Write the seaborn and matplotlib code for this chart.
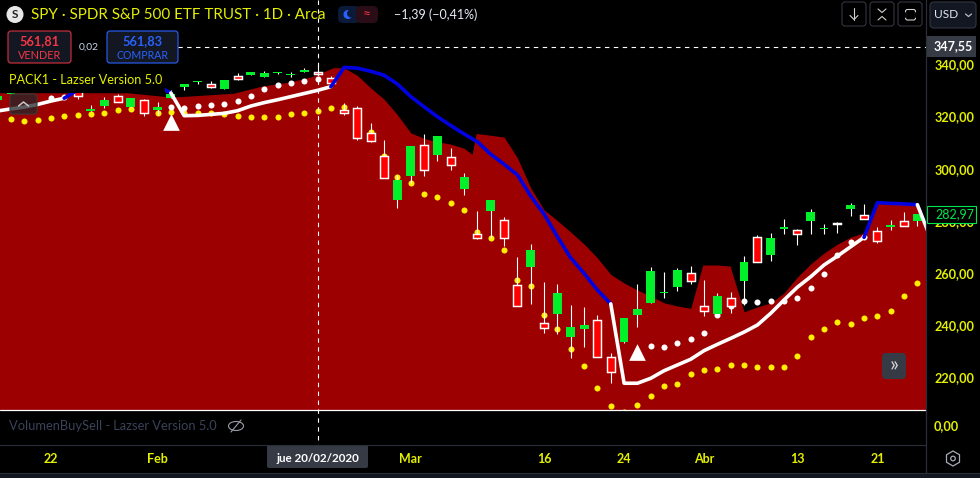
import matplotlib
matplotlib.use("Agg")
import matplotlib.pyplot as plt
from matplotlib.patches import FancyBboxPatch, Rectangle, Circle, Ellipse, RegularPolygon
import seaborn as sns

# one row per candle, left to right
opens = [326.3, 328.8, 330.9, 332.4, 331.3, 332.0, 330.9, 322.1, 324.0, 327.8,
         323.7, 326.2, 322.5, 327.2, 331.2, 333.3, 332.4, 330.4, 335.5, 336.0,
         335.1, 336.8, 336.0, 337.2, 337.0, 334.6, 322.5, 323.1, 313.5, 304.7,
         288.0, 297.2, 308.9, 305.2, 304.4, 292.2, 274.9, 283.8, 280.2, 255.3,
         262.5, 240.8, 244.3, 235.5, 238.6, 241.9, 227.7, 233.6, 243.9, 248.5,
         252.4, 254.7, 259.9, 247.3, 244.3, 250.3, 257.0, 273.7, 266.9, 277.0,
         276.4, 280.0, 276.9, 279.0, 284.6, 282.1, 276.0, 277.7, 279.8, 280.0]
highs = [327.8, 329.4, 332.0, 332.4, 332.4, 332.0, 330.9, 324.4, 327.6, 328.5,
         327.1, 326.6, 325.6, 330.1, 332.4, 333.6, 333.6, 334.0, 336.8, 337.0,
         337.5, 337.0, 337.2, 338.6, 339.7, 335.5, 325.0, 324.0, 317.4, 311.0,
         297.6, 308.7, 313.3, 312.5, 307.9, 298.3, 283.8, 288.0, 281.4, 266.0,
         271.2, 256.6, 255.8, 247.8, 247.0, 243.9, 229.4, 242.8, 255.8, 262.3,
         260.4, 261.9, 262.7, 257.3, 252.4, 252.7, 266.5, 274.6, 275.4, 280.7,
         276.8, 284.5, 278.8, 279.6, 286.8, 286.5, 277.7, 280.3, 283.4, 282.6]
lows = [326.3, 328.8, 330.9, 330.9, 331.3, 330.5, 326.8, 322.1, 323.1, 325.6,
        323.7, 320.3, 320.6, 327.2, 330.1, 332.4, 330.8, 330.4, 334.0, 336.0,
        335.1, 336.2, 335.0, 337.2, 335.8, 331.4, 320.6, 311.0, 310.3, 296.5,
        284.9, 294.4, 297.2, 302.9, 299.5, 289.9, 273.1, 273.3, 270.4, 247.5,
        248.2, 237.2, 236.7, 227.5, 231.7, 228.0, 218.0, 233.2, 239.4, 248.5,
        250.4, 253.1, 255.8, 243.6, 244.3, 244.7, 247.8, 264.4, 264.6, 275.0,
        270.8, 275.0, 275.0, 275.4, 281.9, 280.8, 271.5, 276.5, 278.2, 278.0]
closes = [327.8, 329.4, 332.0, 330.9, 332.4, 330.5, 327.8, 322.8, 326.3, 325.6,
          327.1, 321.2, 323.5, 328.6, 332.4, 333.6, 331.4, 334.0, 334.5, 337.0,
          336.8, 337.0, 336.3, 337.8, 336.2, 332.7, 321.4, 311.9, 310.7, 296.5,
          295.6, 308.7, 299.6, 312.5, 301.5, 296.8, 273.6, 288.0, 273.6, 247.5,
          268.8, 239.1, 252.3, 239.2, 240.1, 228.0, 222.2, 242.8, 246.2, 260.8,
          252.7, 261.2, 257.1, 245.6, 251.2, 247.5, 264.2, 264.4, 273.4, 277.7,
          275.1, 283.4, 277.3, 278.8, 286.1, 280.8, 272.4, 278.4, 278.2, 282.6]

# red band upper edge
band_x = [0, 9.7, 12.7, 13.7, 17.7, 19.9, 21.9, 23.6, 25.2, 26, 27, 28, 29, 30, 31,
          32, 33, 34, 35, 35.6, 35.9, 37, 38, 39, 40, 41, 42, 43, 44, 45, 46, 47,
          48, 49, 50, 51, 52, 52.9, 54, 54.95, 56, 57, 58, 59, 60, 61, 62, 63, 64,
          65, 66, 69, 70]
band_top = [329.1, 329.1, 327.6, 327.6, 328.9, 331.7, 333.2, 335.3, 338.7, 338.6,
            335.7, 330.9, 326.6, 320.6, 313.7, 311.6, 310.3, 309.4, 307.8, 305.5,
            313.5, 312.8, 312.1, 304.1, 292.6, 284.2, 280.1, 275.7, 271.1, 265.8,
            259.5, 256.2, 253.5, 251.2, 248.6, 247.4, 246.5, 263.1, 263.1, 262.7,
            245.2, 247.0, 248.6, 252.4, 258.5, 263.5, 267.7, 271.1, 273.8, 275.4,
            287.0, 286.1, 274.6]

trend = [322.1, 322.9, 323.6, 324.6, 325.9, 327.0, 330.1, 330.5, 330.9, 331.3,
         331.3, 331.5, 331.7, 329.0, 320.3, 320.4, 320.8, 321.2, 322.2, 324.0,
         325.3, 326.4, 327.6, 328.8, 330.0, 331.4, 338.8, 338.5, 337.3, 335.8,
         332.4, 327.6, 323.7, 319.9, 316.5, 313.3, 310.3, 305.5, 301.7, 297.6,
         289.5, 282.6, 273.9, 265.8, 259.9, 253.5, 248.2, 217.8, 217.8, 219.7,
         222.6, 224.8, 227.0, 230.3, 232.7, 235.0, 237.4, 240.1, 244.6, 249.7,
         254.6, 258.6, 263.1, 266.5, 270.1, 273.7, 287.0, 286.7, 286.5, 286.2, 273.3]
trend_runs = [("white", 0, 5), ("blue", 5, 13), ("white", 13, 25), ("blue", 25, 46),
              ("white", 46, 65), ("blue", 65, 69), ("white", 69, 70)]

yellow_x = list(range(1, 70))
yellow_y = [318.9, 318.4, 318.5, 319.3, 320.1, 320.4, 320.8, 321.4, 322.4, 322.9,
            323.2, 321.2, 321.7, 321.2, 321.2, 321.2, 320.9, 320.3, 319.9, 319.7,
            319.7, 320.8, 321.4, 322.2, 323.1, 323.5, 319.4, 314.2, 304.9, 296.9,
            294.4, 290.2, 289.0, 286.7, 284.0, 275.6, 273.3, 268.7, 257.2, 254.9,
            243.8, 238.5, 230.8, 224.3, 215.9, 209.0, 206.8, 209.4, 212.8, 216.6,
            217.4, 221.2, 222.8, 223.1, 224.7, 224.7, 223.9, 223.9, 223.9, 228.1,
            235.4, 238.5, 241.2, 240.4, 242.7, 243.4, 245.4, 251.1, 256.1]

white_x = [4, 5, 13, 14, 15, 16, 17, 18, 19, 20, 21, 22, 23, 24,
           49, 50, 51, 52, 53, 54, 55, 56, 57, 58, 59, 60, 61, 62, 63, 64, 65]
white_y = [327.0, 327.3, 323.5, 323.1, 324.0, 324.5, 324.8, 325.8, 327.7, 330.4,
           332.2, 332.7, 333.5, 334.2, 231.9, 231.5, 233.1, 234.6, 236.9, 244.0,
           247.4, 249.2, 248.8, 249.2, 249.2, 250.3, 254.2, 259.5, 266.8, 271.8, 273.7]

signal_x = [13, 48]
signal_y = [318.0, 229.9]

price_ticks = [220, 240, 260, 280, 300, 320, 340]
price_labels = ["220,00", "240,00", "260,00", "280,00", "300,00", "320,00", "340,00"]
date_ticks = [4, 12, 31, 41, 47, 53, 60, 66]
date_labels = ["22", "Feb", "Mar", "16", "24", "Abr", "13", "21"]

LIME = "#e4f000"
RED_BAND = "#9c0000"
GREEN = "#00f02a"
PANEL = "#131722"
GREY_BOX = "#363a45"
LINE = "#2a2e39"

sns.set_theme(style="dark", rc={"axes.facecolor": "black", "figure.facecolor": "black"})
plt.rcParams["font.family"] = ["Lato", "DejaVu Sans"]

fig = plt.figure(figsize=(9.8, 4.78), dpi=100)
ax = fig.add_axes([0, (478 - 409.5) / 478, 925.5 / 980, 409.5 / 478])

ax.fill_between(band_x, band_top, 200, color=RED_BAND, lw=0, zorder=1)

sns.scatterplot(x=yellow_x, y=yellow_y, color="#ffee00", s=19, linewidth=0, ax=ax, zorder=3)
sns.scatterplot(x=white_x, y=white_y, color="white", s=19, linewidth=0, ax=ax, zorder=3)

for i in range(len(opens)):
    up = closes[i] >= opens[i]
    ax.vlines(i, lows[i], highs[i], color="white", lw=0.8, zorder=4)
    if up:
        ax.bar(i, closes[i] - opens[i], bottom=opens[i], width=0.66, color=GREEN, lw=0, zorder=5)
    else:
        ax.bar(i, opens[i] - closes[i], bottom=closes[i], width=0.6, color="#ff0000",
               edgecolor="white", lw=1.05, zorder=5)

for name, a, b in trend_runs:
    sns.lineplot(x=list(range(a, b + 1)), y=trend[a:b + 1], color="white" if name == "white" else "#0000e0",
                 lw=2.6, errorbar=None, ax=ax, zorder=6)

sns.scatterplot(x=signal_x, y=signal_y, color="white", marker="^", s=145, linewidth=0, ax=ax, zorder=7)

ax.set_xlim(0.182, 69.61)
ax.set_ylim(207.74, 364.62)
ax.yaxis.tick_right()
ax.set_yticks(price_ticks, price_labels)
ax.set_xticks(date_ticks, date_labels)
ax.tick_params(axis="y", length=0, pad=6.5, labelsize=9.1, labelcolor=LIME)
ax.tick_params(axis="x", length=0, pad=31, labelsize=9, labelcolor=LIME)
for t in ax.get_xticklabels() + ax.get_yticklabels():
    t.set_fontweight("bold")
ax.grid(False)
for s in ax.spines.values():
    s.set_visible(False)

# the interface around the chart, in pixels of the picture
ui = fig.add_axes([0, 0, 1, 1], facecolor="none")
ui.set_xlim(0, 980)
ui.set_ylim(478, 0)
ui.axis("off")


def box(x0, y0, x1, y1, face, edge="none", r=3, lw=0.8, **kw):
    p = FancyBboxPatch((x0 + r, y0 + r), x1 - x0 - 2 * r, y1 - y0 - 2 * r,
                       boxstyle=f"round,pad={r},rounding_size={r}", fc=face, ec=edge, lw=lw, **kw)
    ui.add_patch(p)


def label(x, y, s, color="white", size=9, ha="center", weight="normal"):
    ui.text(x, y, s, color=color, fontsize=size, ha=ha, va="center", fontweight=weight)


# legend background hides what runs under it
ui.add_patch(Rectangle((0, 66), 165, 27, fc="black", ec="none"))

ui.plot([317.5, 317.5], [0, 445], color="white", lw=0.8, ls=(0, (4, 4)), zorder=0.5)
ui.plot([0, 926], [46.5, 46.5], color="white", lw=0.8, ls=(0, (4, 4)), zorder=0.5)
ui.plot([0, 926], [409.5, 409.5], color="white", lw=0.9)
ui.plot([0, 926], [445, 445], color=LINE, lw=0.8)
ui.plot([926, 926], [0, 473], color=LINE, lw=0.9)
ui.add_patch(Rectangle((0, 473), 980, 5, fc=PANEL, ec="none"))
ui.plot([0, 980], [473, 473], color=LINE, lw=0.8)

# header
ui.add_patch(Circle((15, 14.5), 8.5, fc="#e8e8e8", ec="none"))
label(15, 14.5, "S", color="#222222", size=8.5, weight="bold")
label(31, 14.5, "SPY · SPDR S&P 500 ETF TRUST · 1D · Arca", color=LIME, size=10.9, ha="left")
box(338, 6, 360, 23, "#0c1a3a", r=5)
box(356, 6, 378, 23, "#2a0d16", r=5)
ui.add_patch(Circle((348, 14.5), 4.5, fc="#2962ff", ec="none"))
ui.add_patch(Circle((351, 13.5), 4, fc="#0c1a3a", ec="none"))
label(367, 14, "≈", color="#f23645", size=10)
label(394, 14.5, "−1,39 (−0,41%)", color="#e6ecf5", size=9, ha="left")

# order boxes
ui.add_patch(Rectangle((0, 38), 107, 18, fc="black", ec="none"))
box(8, 31, 71, 63, PANEL, "#d8323f", r=3)
label(39.5, 41, "561,81", color="#f23645", size=9.2, weight="bold")
label(39.5, 55, "VENDER", color="#f23645", size=7.8)
label(88.5, 47.5, "0,02", color="#c8d4e6", size=7.4)
box(107, 31, 178, 63, PANEL, "#2962ff", r=3)
label(142.5, 41, "561,83", color="#2962ff", size=9.2, weight="bold")
label(142.5, 55, "COMPRAR", color="#2962ff", size=7.6)
label(9, 80, "PACK1 - Lazser Version 5.0", color=LIME, size=9.05, ha="left")

box(10, 94, 37, 114, (0.15, 0.15, 0.17, 0.75), "#3a3a3a", r=3)
ui.plot([18.5, 23.5, 28.5], [106, 102, 106], color="#c8c8c8", lw=1.1)

# top right buttons
for x0 in [842, 870, 898]:
    box(x0, 2, x0 + 24, 26, "black", "#33363f", r=3)
ui.plot([854, 854], [8, 19.5], color="#d0d0d0", lw=0.8)
ui.plot([850, 854, 858], [15.5, 19.5, 15.5], color="#d0d0d0", lw=0.8)
ui.plot([878, 882, 886], [9, 12.5, 9], color="#d0d0d0", lw=0.8)
ui.plot([878, 882, 886], [20, 16.5, 20], color="#d0d0d0", lw=0.8)
box(905.5, 9.5, 915.5, 20, "black", "#d0d0d0", r=2)
ui.plot([905, 905], [12.5, 17], color="black", lw=1.4)
ui.plot([916, 916], [12.5, 17], color="black", lw=1.4)
box(930, 2, 976, 28, PANEL, "#2f3542", r=4)
label(934, 14.5, "USD", color="#dfe6f2", size=8.6, ha="left")
ui.plot([965.5, 968.5, 971.5], [14, 16.5, 14], color="#b8bcc6", lw=0.9)

# price scale labels
ui.add_patch(Rectangle((927, 36), 49, 21, fc=GREY_BOX, ec="none"))
label(953, 46.5, "347,55", size=9, weight="bold")
ui.add_patch(Rectangle((927, 206), 49, 17, fc="black", ec="#00e64d", lw=0.8))
label(955, 214, "282,97", color="#00e64d", size=9, weight="normal")
label(934, 426.5, "0,00", color=LIME, size=9.1, ha="left", weight="bold")

# lower pane
label(9, 426.5, "VolumenBuySell - Lazser Version 5.0", color="#3b4258", size=9.3, ha="left")
ui.add_patch(Ellipse((236, 426), 15, 9, fc="none", ec="#9a9ea8", lw=0.8))
ui.plot([231, 241], [432, 420], color="#9a9ea8", lw=0.8)

# date under the crosshair
box(267, 445, 368, 468, GREY_BOX, r=2)
label(317.5, 459, "jue 20/02/2020", size=8.4, weight="bold")

box(882, 353, 906, 379, GREY_BOX, r=4)
label(894, 365, "»", color="#d8d8d8", size=15)

ui.add_patch(RegularPolygon((953, 458.5), 6, radius=7.5, fc="none", ec="#a8acb5", lw=0.9))
ui.add_patch(Circle((953, 458.5), 2.3, fc="none", ec="#a8acb5", lw=0.9))

fig.savefig("out.png", dpi=100, facecolor="black")
